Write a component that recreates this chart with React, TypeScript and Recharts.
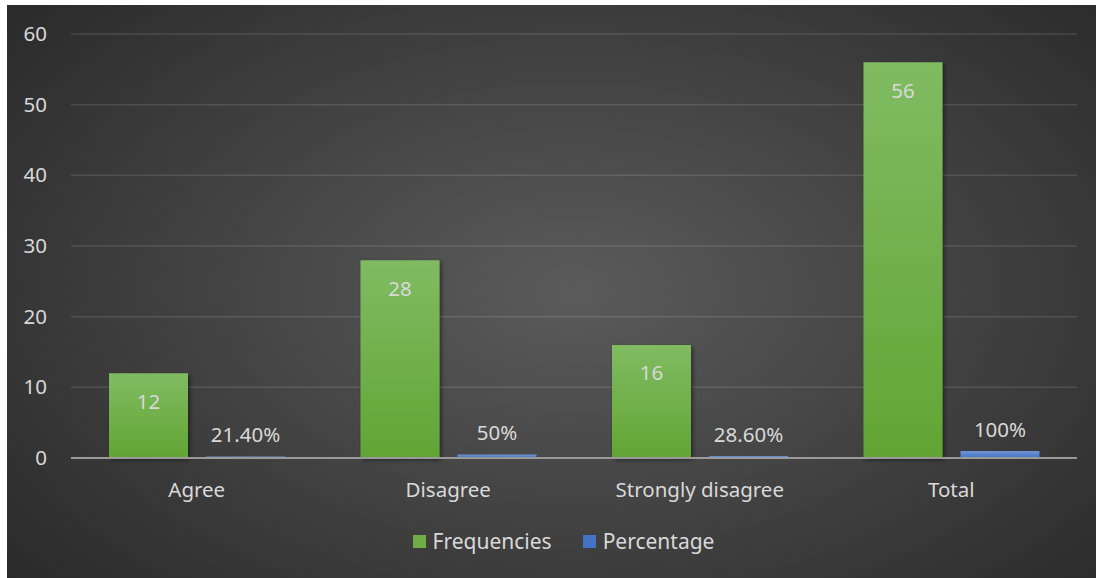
import { BarChart, Bar, XAxis, YAxis, CartesianGrid, Legend, LabelList } from "recharts";

const categories = ["Agree", "Disagree", "Strongly disagree", "Total"];
const frequencies = [12, 28, 16, 56];
const percentages = [0.214, 0.5, 0.286, 1];
const percentLabels = ["21.40%", "50%", "28.60%", "100%"];
const yTicks = [0, 10, 20, 30, 40, 50, 60];

const data = categories.map((name, i) => ({
  name,
  freq: frequencies[i],
  pct: percentages[i],
  pctLabel: percentLabels[i],
}));

const FONT = "'Noto Sans', 'Open Sans', sans-serif";
const TEXT = "#d9d9d9";
const SIZE = 20.5;

function YTick({ x, y, payload }: any) {
  return (
    <text x={x - 16} y={y} dy={7} textAnchor="end" fill={TEXT} fontSize={SIZE} fontFamily={FONT}>
      {payload.value}
    </text>
  );
}

function XTick({ x, y, payload }: any) {
  return (
    <text x={x} y={y} dy={31} textAnchor="middle" fill={TEXT} fontSize={SIZE} fontFamily={FONT}>
      {payload.value}
    </text>
  );
}

function LegendContent() {
  const items = [
    { label: "Frequencies", color: "#70ad47" },
    { label: "Percentage", color: "#4472c4" },
  ];
  return (
    <div
      style={{
        display: "flex",
        justifyContent: "center",
        gap: 31,
        paddingLeft: 24,
        fontFamily: FONT,
        fontSize: 21,
        color: TEXT,
      }}
    >
      {items.map((it) => (
        <div key={it.label} style={{ display: "flex", alignItems: "center", gap: 7 }}>
          <span style={{ width: 13, height: 13, background: it.color, display: "inline-block" }} />
          <span>{it.label}</span>
        </div>
      ))}
    </div>
  );
}

export default function App() {
  return (
    <div
      style={{
        position: "absolute",
        left: 7,
        top: 5,
        width: 1089,
        height: 573,
        background: "radial-gradient(ellipse 68% 78% at 52% 50%, #5b5b5b 0%, #454545 45%, #2a2a2a 100%)",
      }}
    >
      <BarChart
        width={1089}
        height={573}
        data={data}
        margin={{ top: 29, right: 19, left: 0, bottom: 60 }}
        barSize={79}
        barGap={18}
      >
        <defs>
          <linearGradient id="greenFill" x1="0" y1="0" x2="0" y2="1">
            <stop offset="0%" stopColor="#80bb62" />
            <stop offset="100%" stopColor="#62a534" />
          </linearGradient>
          <linearGradient id="blueFill" x1="0" y1="0" x2="0" y2="1">
            <stop offset="0%" stopColor="#6f95d8" />
            <stop offset="100%" stopColor="#4472c4" />
          </linearGradient>
          <filter id="barShadow" x="-10%" y="-10%" width="130%" height="130%">
            <feDropShadow dx="2" dy="2" stdDeviation="2" floodColor="#000" floodOpacity="0.45" />
          </filter>
        </defs>
        <CartesianGrid vertical={false} stroke="rgba(255,255,255,0.12)" strokeWidth={1.5} />
        <XAxis
          dataKey="name"
          height={60}
          axisLine={{ stroke: "#9a9a9a", strokeWidth: 2 }}
          tickLine={false}
          tick={<XTick />}
        />
        <YAxis
          width={64}
          domain={[0, 60]}
          ticks={yTicks}
          axisLine={false}
          tickLine={false}
          tick={<YTick />}
        />
        <Legend
          verticalAlign="middle"
          align="center"
          wrapperStyle={{ top: 522, left: 0, width: 1089 }}
          content={<LegendContent />}
        />
        <Bar dataKey="freq" name="Frequencies" fill="url(#greenFill)" filter="url(#barShadow)" isAnimationActive={false}>
          <LabelList dataKey="freq" position="insideTop" offset={21} fill={TEXT} fontSize={SIZE} fontFamily={FONT} />
        </Bar>
        <Bar dataKey="pct" name="Percentage" fill="url(#blueFill)" isAnimationActive={false}>
          <LabelList dataKey="pctLabel" position="top" offset={14} fill={TEXT} fontSize={SIZE} fontFamily={FONT} />
        </Bar>
      </BarChart>
    </div>
  );
}
